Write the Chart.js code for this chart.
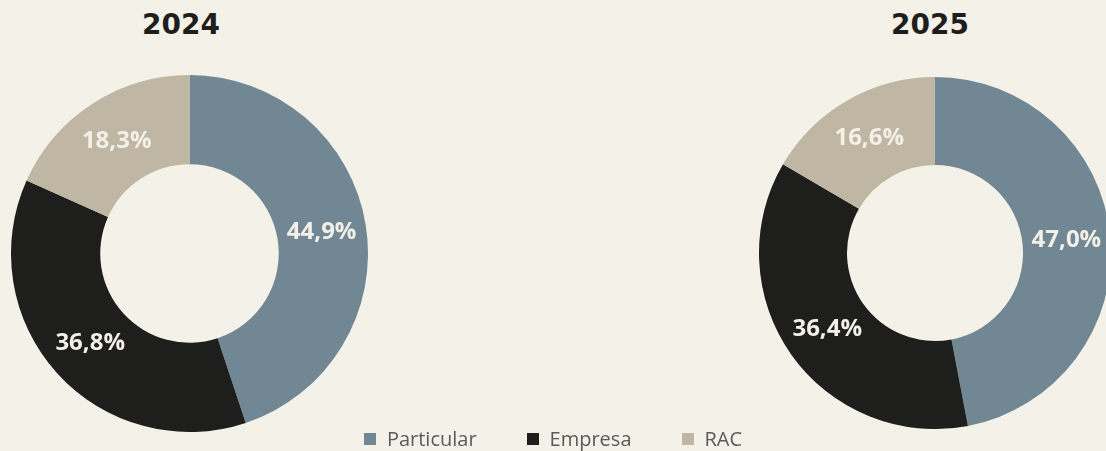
<!DOCTYPE html>
<html>
<head>
<meta charset="utf-8">
<script src="https://cdn.jsdelivr.net/npm/chart.js@4.4.1/dist/chart.umd.min.js"></script>
<style>
  html, body { margin: 0; padding: 0; background: #f4f1e9; width: 1106px; height: 451px; overflow: hidden; }
  #wrap { position: relative; width: 1106px; height: 451px; overflow: hidden; }
  .title { position: absolute; top: 5px; width: 200px; text-align: center; font-family: "DejaVu Sans", sans-serif; font-weight: 700; font-size: 28px; color: #1e1e1c; line-height: 40px; }
  .box { position: absolute; }
  #legend { position: absolute; left: 0; width: 1106px; top: 425px; display: flex; justify-content: center; gap: 50px; font-family: "Open Sans", sans-serif; font-size: 20px; color: #5b5b5b; line-height: 28px; }
  #legend .item { display: flex; align-items: center; }
  #legend .sw { width: 12px; height: 12px; margin-right: 11px; }
</style>
</head>
<body>
<div id="wrap">
  <div class="title" id="t1" style="left:81px;">2024</div>
  <div class="title" id="t2" style="left:830px;">2025</div>
  <div class="box" style="left:11px; top:75px; width:357px; height:357px;"><canvas id="c1"></canvas></div>
  <div class="box" style="left:759px; top:77px; width:352px; height:352px;"><canvas id="c2"></canvas></div>
  <div id="legend"></div>
</div>
<script>
const categories = ["Particular", "Empresa", "RAC"];
const years = ["2024", "2025"];
const values2024 = [44.9, 36.8, 18.3];
const values2025 = [47.0, 36.4, 16.6];
const colors = ["#718794", "#1e1e1c", "#bfb6a3"];

const fmt = v => v.toFixed(1).replace('.', ',') + '%';

const labelPlugin = {
  id: 'sliceLabels',
  afterDatasetsDraw(chart) {
    const ctx = chart.ctx;
    const meta = chart.getDatasetMeta(0);
    const data = chart.data.datasets[0].data;
    ctx.save();
    ctx.font = '700 24px "Open Sans", sans-serif';
    ctx.fillStyle = '#f3f0e8';
    ctx.textAlign = 'center';
    ctx.textBaseline = 'middle';
    meta.data.forEach((arc, i) => {
      const p = arc.tooltipPosition();
      ctx.fillText(fmt(data[i]), p.x, p.y);
    });
    ctx.restore();
  }
};

function makeChart(id, values) {
  return new Chart(document.getElementById(id), {
    type: 'doughnut',
    data: {
      labels: categories,
      datasets: [{ data: values, backgroundColor: colors, borderWidth: 0, hoverOffset: 0 }]
    },
    options: {
      responsive: true,
      maintainAspectRatio: false,
      animation: false,
      cutout: '50%',
      layout: { padding: 0 },
      plugins: { legend: { display: false }, tooltip: { enabled: false }, title: { display: false } },
      events: []
    },
    plugins: [labelPlugin]
  });
}
makeChart('c1', values2024);
makeChart('c2', values2025);

const legend = document.getElementById('legend');
categories.forEach((c, i) => {
  const it = document.createElement('div');
  it.className = 'item';
  const sw = document.createElement('span');
  sw.className = 'sw';
  sw.style.background = colors[i];
  const tx = document.createElement('span');
  tx.textContent = c;
  it.appendChild(sw); it.appendChild(tx);
  legend.appendChild(it);
});
</script>
</body>
</html>
